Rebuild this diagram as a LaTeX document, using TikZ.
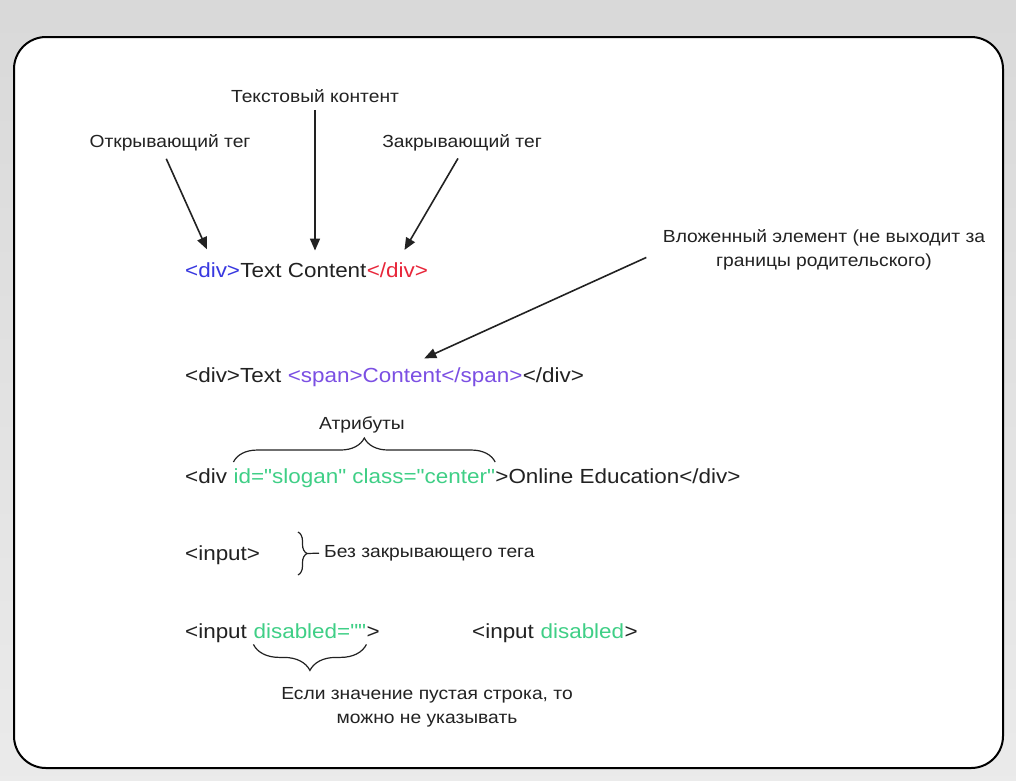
\documentclass[tikz,border=0pt]{standalone}
\usepackage{fontspec}
\setmainfont[FakeStretch=1.1, Ligatures=TeXOff]{Liberation Sans}
\usetikzlibrary{positioning,arrows.meta,decorations.pathreplacing}
\definecolor{tagblue}{HTML}{3838E0}
\definecolor{tagred}{HTML}{E8263A}
\definecolor{tagpurple}{HTML}{7B4FE3}
\definecolor{attrgreen}{HTML}{3FCF86}
\definecolor{ink}{HTML}{222222}
\tikzset{
  code/.style={inner sep=0pt, anchor=base west, font=\fontsize{20.4}{24}\selectfont, text=ink},
  note/.style={inner sep=0pt, font=\fontsize{17.5}{24}\selectfont, text=ink, align=center},
  fwd/.style={-{Triangle[length=12pt,width=10pt]}, line width=1.6pt, draw=ink},
  curly/.style={decorate, decoration={brace, amplitude=#1}, line width=1.2pt, draw=ink},
}

\begin{document}
\begin{tikzpicture}[x=1pt,y=-1pt]
  \shade[top color=black!15, bottom color=black!8] (0,0) rectangle (1016,780);
  \draw[line width=2pt, rounded corners=32pt, fill=white] (14,37) rectangle (1003,768);

  % first line and its three labels
  \node[note] (lcontent) at (315,96) {Текстовый контент};
  \node[note] (lopen) at (170,143) {Открывающий тег};
  \node[note] (lclose) at (462,143) {Закрывающий тег};

  \node[code, text=tagblue] (open) at (185,277) {<div>};
  \node[code] (content) at (open.base east) {Text Content};
  \node[code, text=tagred] (close) at (content.base east) {</div>};

  \draw[fwd, shorten <=7pt, shorten >=12pt] (lcontent.south) -- (lcontent.south |- content.north);
  \draw[fwd, shorten <=8pt, shorten >=14pt] ([xshift=-7pt]lopen.south) -- (open.north);
  \draw[fwd, shorten <=8pt, shorten >=14pt] (lclose.south) -- (close.north);

  % nested element
  \node[note] (lnested) at (824,250) {Вложенный элемент (не выходит за\\границы родительского)};
  \node[code] (div2) at (185,382) {<div>Text\ \mbox{}};
  \node[code, text=tagpurple] (span) at (div2.base east) {<span>Content</span>};
  \node[code] (div2end) at (span.base east) {</div>};
  \draw[fwd, shorten <=18pt, shorten >=21pt] (lnested.west) -- (span.north);

  % attributes
  \node[note] (lattrs) at (362,425) {Атрибуты};
  \node[code] (div3) at (185,483) {<div\ \mbox{}};
  \node[code, text=attrgreen] (attrs) at (div3.base east) {id="slogan" class="center"};
  \node[code] (div3end) at (attrs.base east) {>Online Education</div>};
  \draw[curly=24pt] ([yshift=6pt]attrs.north west) -- ([yshift=6pt]attrs.north east);

  % void element
  \node[code] (input) at (185,560) {<input>};
  \draw[curly=9pt] (298,532) -- (298,575);
  \coordinate (inputtip) at (307,553.5);
  \node[note, anchor=west] (lnoclose) at (324,553) {Без закрывающего тега};
  \draw[line width=1.2pt, draw=ink, shorten >=5pt] (inputtip) -- (lnoclose.west);

  % empty attribute value
  \node[code] (input2) at (185,638) {<input\ \mbox{}};
  \node[code, text=attrgreen] (empty) at (input2.base east) {disabled=""};
  \node[code] (input2end) at (empty.base east) {>};
  \node[code] (input3) at (472,638) {<input\ \mbox{}};
  \node[code, text=attrgreen] (bare) at (input3.base east) {disabled};
  \node[code] (input3end) at (bare.base east) {>};
  \draw[curly=26pt] ([yshift=-6pt]empty.south east) -- ([yshift=-6pt]empty.south west);
  \node[note] (lempty) at (427,707) {Если значение пустая строка, то\\можно не указывать};
\end{tikzpicture}
\end{document}
